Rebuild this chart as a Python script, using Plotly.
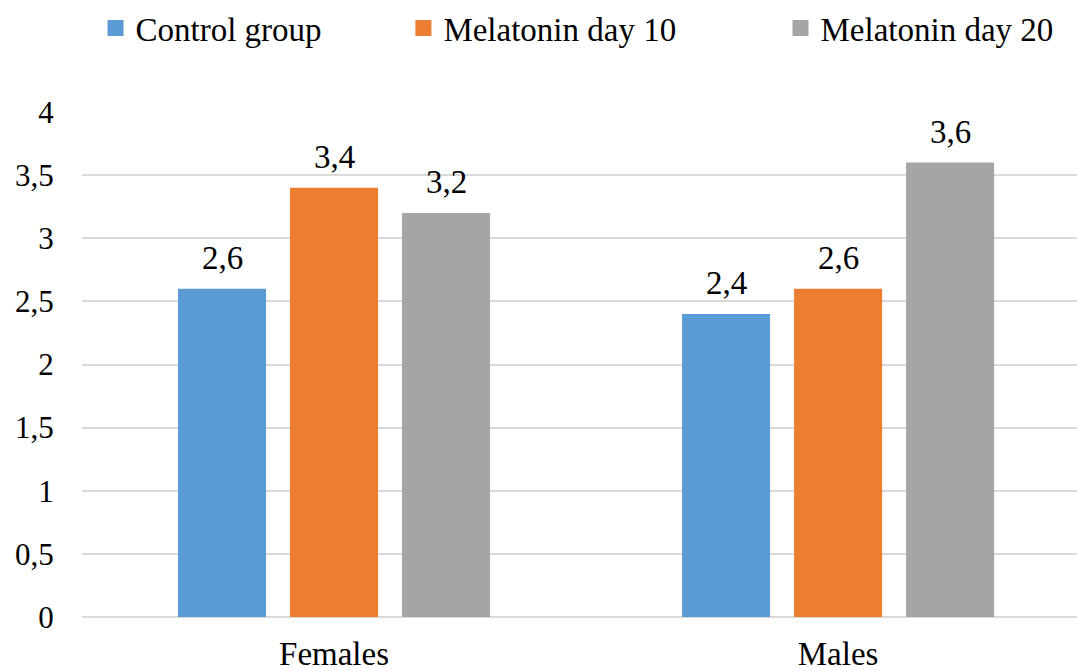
import plotly.graph_objects as go

categories = ["Females", "Males"]
series_names = ["Control group", "Melatonin day 10", "Melatonin day 20"]
control_group = [2.6, 2.4]
melatonin_day10 = [3.4, 2.6]
melatonin_day20 = [3.2, 3.6]
y_ticks = [0, 0.5, 1, 1.5, 2, 2.5, 3, 3.5, 4]

colors = ["#5b9bd5", "#ed7d31", "#a5a5a5"]
FONT = "Liberation Serif"
SIZE = 33
TICK_SIZE = 31

series_values = [control_group, melatonin_day10, melatonin_day20]
legend_ids = ["legend", "legend2", "legend3"]
legend_x = [0.0136, 0.323, 0.702]
bar_offsets_px = [-112, 0, 112]

fig = go.Figure()
annotations = []
for i, (name, vals, col) in enumerate(zip(series_names, series_values, colors)):
    fig.add_trace(go.Bar(
        x=categories, y=vals, name=name,
        marker=dict(color=col, line=dict(width=0)),
        showlegend=False,
    ))
    # legend entry with a larger square swatch
    fig.add_trace(go.Scatter(
        x=[None], y=[None], mode="markers", name=name,
        marker=dict(symbol="square", size=16, color=col, line=dict(width=0)),
        showlegend=True, legend=legend_ids[i],
    ))
    # value labels above each bar
    for cat, v in zip(categories, vals):
        annotations.append(dict(
            x=cat, y=v, xref="x", yref="y",
            text=f"{v:.1f}".replace(".", ","),
            showarrow=False, xanchor="center", yanchor="bottom",
            xshift=bar_offsets_px[i], yshift=11,
            font=dict(family=FONT, size=SIZE, color="#000000"),
        ))

legend_common = dict(
    orientation="h", xanchor="left", y=1.167, yanchor="middle",
    font=dict(family=FONT, size=SIZE, color="#000000"),
    itemwidth=30, bgcolor="rgba(0,0,0,0)",
)
layout_legends = {
    lid: dict(legend_common, x=lx) for lid, lx in zip(legend_ids, legend_x)
}

fig.update_layout(
    width=1077, height=671,
    margin=dict(l=82, r=0, t=110, b=54),
    plot_bgcolor="white", paper_bgcolor="white",
    separators=",.",
    barmode="group", bargap=0.3333, bargroupgap=0.214,
    font=dict(family=FONT, size=SIZE, color="#000000"),
    showlegend=True,
    annotations=annotations,
    **layout_legends,
)
fig.update_xaxes(
    type="category", range=[-0.5, 1.474], automargin=False,
    showgrid=False, showline=False, zeroline=False,
    ticks="outside", ticklen=7, tickcolor="rgba(0,0,0,0)",
    tickfont=dict(family=FONT, size=SIZE, color="#000000"),
)
fig.update_yaxes(
    range=[0, 4], tickvals=y_ticks, automargin=False,
    showgrid=True, gridcolor="#d9d9d9", gridwidth=2,
    zeroline=True, zerolinecolor="#d9d9d9", zerolinewidth=2,
    showline=False,
    ticks="outside", ticklen=21, tickcolor="rgba(0,0,0,0)",
    tickfont=dict(family=FONT, size=TICK_SIZE, color="#000000"),
)

fig.write_html("out.html")
